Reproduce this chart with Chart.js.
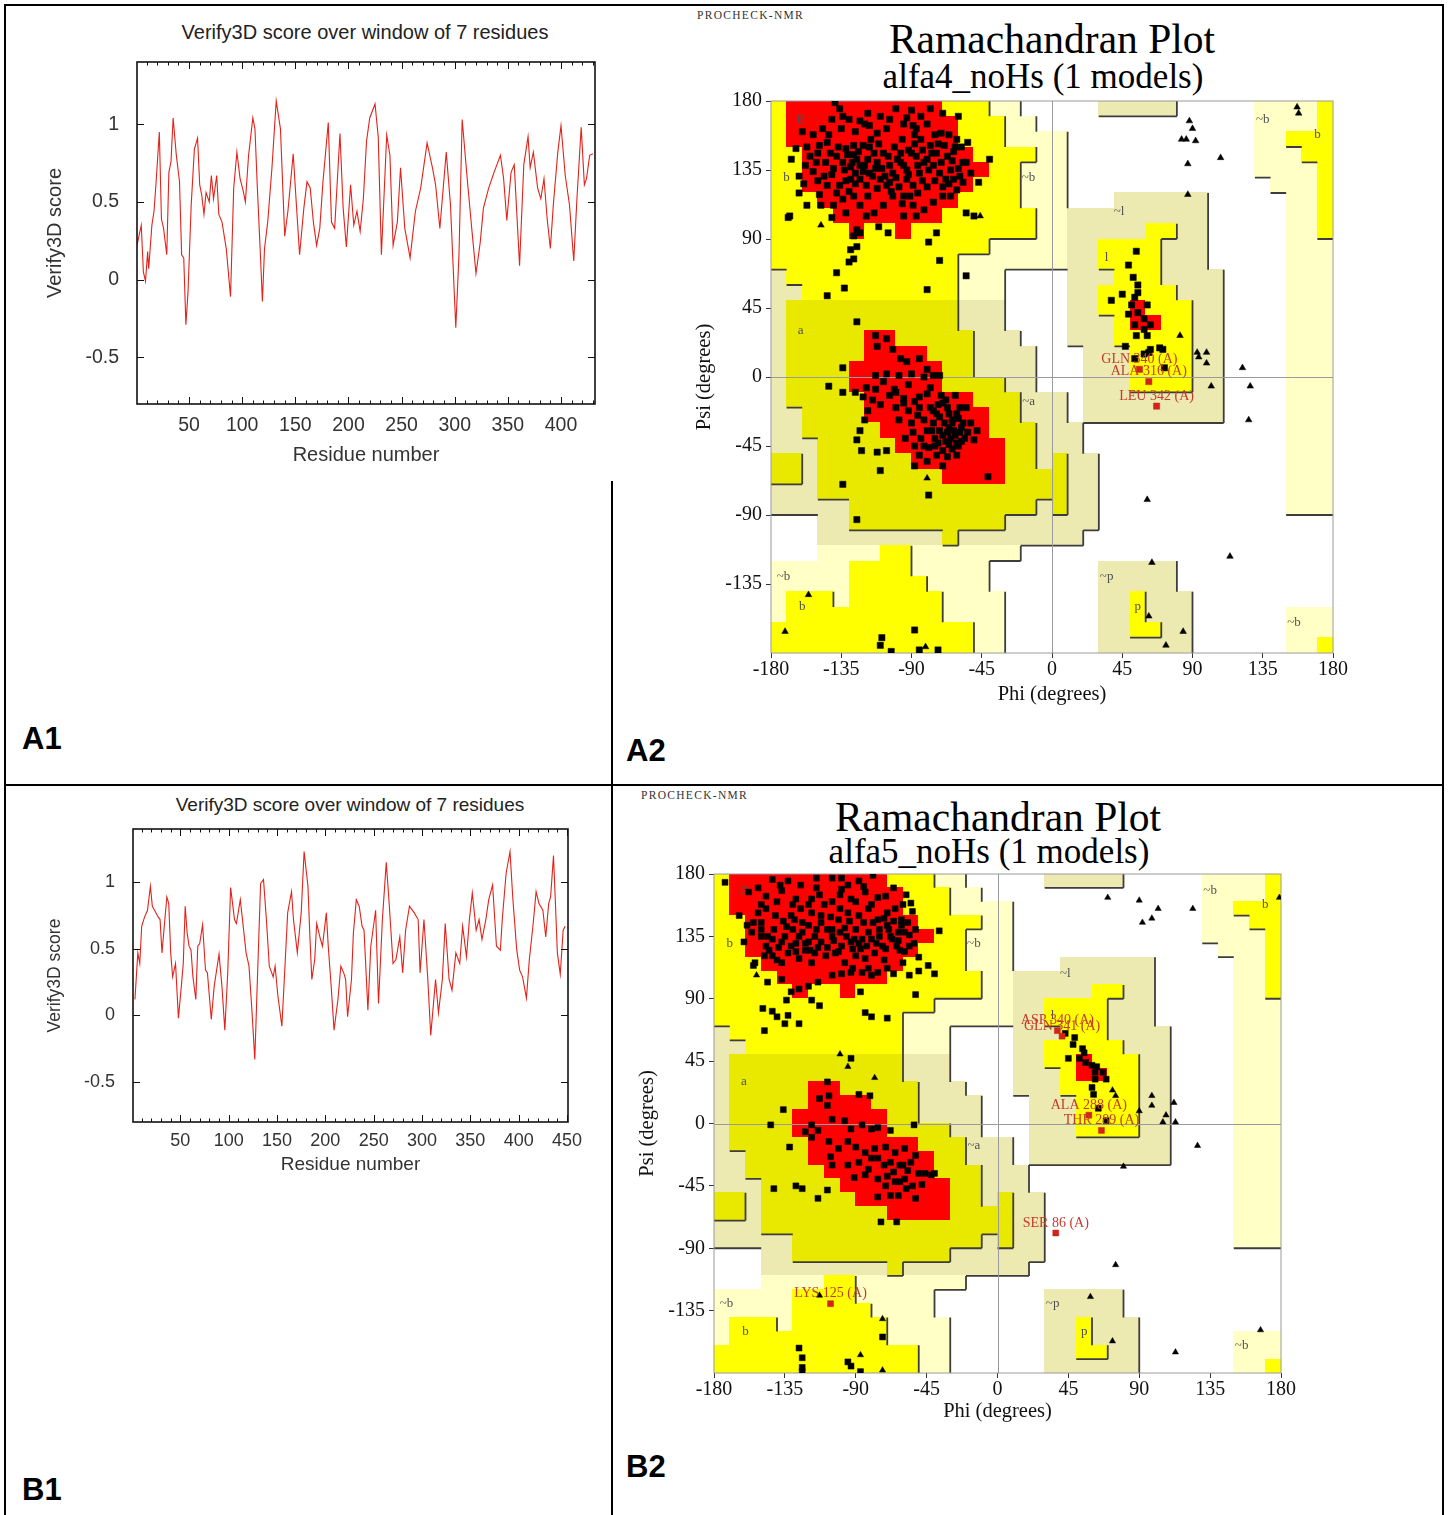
<!DOCTYPE html>
<html lang="en">
<head>
<meta charset="UTF-8">
<title>Verify3D and Ramachandran plots</title>
<script src="https://cdn.jsdelivr.net/npm/chart.js"></script>
<style>
  body { margin: 0; background: #fff; }
  #page { position: relative; width: 1450px; height: 1515px; overflow: hidden; background: #fff; }
  .rule { position: absolute; background: #000; }
  .txt { position: absolute; white-space: nowrap; line-height: 1; }
  .sans { font-family: "Liberation Sans", Arial, sans-serif; color: #222; }
  .serif { font-family: "Liberation Serif", "Times New Roman", serif; color: #000; }
  .panel { position: absolute; line-height: 1; font-family: "Liberation Sans", Arial, sans-serif; font-weight: bold; font-size: 31px; color: #000; }
  canvas { position: absolute; }
</style>
</head>
<body>
<div id="page">
  <div class="rule" style="left:4px;top:4px;width:1440px;height:2px"></div>
  <div class="rule" style="left:4px;top:4px;width:2px;height:1511px"></div>
  <div class="rule" style="left:1442px;top:4px;width:2px;height:1511px"></div>
  <div class="rule" style="left:4px;top:784px;width:1440px;height:2px"></div>
  <div class="rule" style="left:611px;top:481px;width:2px;height:1034px"></div>

  <div class="txt sans" style="left:365px;top:32px;font-size:20px;transform:translate(-50%,-50%)">Verify3D score over window of 7 residues</div>
  <canvas id="verifyA" width="575" height="452" style="left:40px;top:15px"></canvas>
  <div class="panel" style="left:22px;top:723px">A1</div>

  <div class="txt serif" style="left:697px;top:10px;font-size:11.5px;letter-spacing:1.3px;color:#333">PROCHECK-NMR</div>
  <div class="txt serif" style="left:1052px;top:19px;font-size:41.5px;transform:translateX(-50%)">Ramachandran Plot</div>
  <div class="txt serif" style="left:1043px;top:59px;font-size:35px;transform:translateX(-50%)">alfa4_noHs (1 models)</div>
  <canvas id="ramaA" width="670" height="622" style="left:690px;top:85px"></canvas>
  <div class="panel" style="left:626px;top:735px">A2</div>

  <div class="txt sans" style="left:350px;top:804px;font-size:19px;transform:translate(-50%,-50%)">Verify3D score over window of 7 residues</div>
  <canvas id="verifyB" width="560" height="386" style="left:40px;top:790px"></canvas>
  <div class="panel" style="left:22px;top:1474px">B1</div>

  <div class="txt serif" style="left:641px;top:790px;font-size:11.5px;letter-spacing:1.3px;color:#333">PROCHECK-NMR</div>
  <div class="txt serif" style="left:998px;top:797px;font-size:41.5px;transform:translateX(-50%)">Ramachandran Plot</div>
  <div class="txt serif" style="left:989px;top:834px;font-size:35px;transform:translateX(-50%)">alfa5_noHs (1 models)</div>
  <canvas id="ramaB" width="680" height="566" style="left:635px;top:858px"></canvas>
  <div class="panel" style="left:626px;top:1451px">B2</div>
</div>

<script>
// ---------- Verify3D profiles ----------
const residueTicks = [50, 100, 150, 200, 250, 300, 350, 400, 450];
const scoreTicks = [-0.5, 0, 0.5, 1];

const a1Residue = [
  1,5,7,9,11,12,15,17,19,22,
  24,26,29,31,33,35,38,41,43,45,
  47,49,52,55,58,60,62,64,66,69,
  71,73,76,78,81,85,89,92,95,98,
  101,103,106,110,112,114,117,119,121,124,
  128,132,136,140,143,148,151,154,158,161,
  164,167,170,173,176,181,184,187,192,195,
  198,202,205,208,211,214,217,220,225,228,
  231,236,239,242,246,249,253,258,263,268,
  274,279,282,286,292,296,301,304,307,312,
  316,320,324,327,332,337,343,346,349,353,
  356,361,365,369,371,374,378,381,384,387,
  390,393,397,400,404,408,412,415,419,422,
  424,427,430
];
const a1Score = [
  0.22,0.35,0.05,-0.01,0.18,0.07,0.35,0.44,0.63,0.95,
  0.39,0.33,0.16,0.69,0.76,1.04,0.80,0.63,0.16,0.14,
  -0.29,-0.08,0.48,0.84,0.91,0.61,0.54,0.42,0.56,0.50,
  0.67,0.52,0.67,0.42,0.37,0.20,-0.11,0.59,0.82,0.65,
  0.57,0.50,0.80,1.04,0.97,0.63,0.18,-0.14,0.20,0.37,
  0.72,1.15,0.97,0.28,0.44,0.81,0.48,0.16,0.46,0.63,
  0.59,0.37,0.22,0.33,0.63,1.01,0.37,0.33,0.94,0.46,
  0.21,0.61,0.35,0.44,0.31,0.52,0.89,1.04,1.13,0.92,
  0.16,0.93,0.80,0.22,0.37,0.72,0.33,0.14,0.44,0.59,
  0.88,0.72,0.61,0.33,0.82,0.48,-0.31,0.16,1.03,0.63,
  0.33,0.04,0.24,0.46,0.59,0.69,0.80,0.65,0.38,0.69,
  0.74,0.09,0.74,0.92,0.72,0.82,0.59,0.52,0.65,0.39,
  0.20,0.50,0.82,0.99,0.67,0.48,0.12,0.52,0.98,0.61,
  0.65,0.80,0.81
];

const b1Residue = [
  3,6,8,10,13,16,19,21,24,27,
  29,31,33,36,38,40,42,45,48,51,
  53,55,57,59,61,63,66,68,70,73,
  76,78,82,85,90,93,96,99,102,106,
  108,112,115,118,121,124,127,130,133,136,
  139,142,146,148,151,155,158,161,165,167,
  171,175,178,182,184,186,189,191,195,197,
  201,203,206,209,213,216,219,221,223,227,
  229,232,235,238,240,244,247,252,255,259,
  263,266,270,273,277,280,283,287,292,296,
  298,302,306,309,314,317,321,324,328,331,
  335,339,342,346,349,352,356,359,362,366,
  369,373,377,381,383,387,391,394,398,401,
  404,408,411,415,418,421,425,428,431,433,
  436,438,440,443,446,448
];
const b1Score = [
  0.12,0.47,0.39,0.67,0.74,0.79,0.97,0.82,0.78,0.74,
  0.72,0.47,0.64,0.89,0.84,0.47,0.29,0.39,-0.02,0.22,
  0.39,0.82,0.62,0.52,0.49,0.29,0.12,0.52,0.54,0.68,
  0.34,0.32,-0.03,0.22,0.46,0.22,-0.11,0.32,0.96,0.72,
  0.69,0.87,0.67,0.47,0.37,0.04,-0.33,0.34,0.99,1.02,
  0.72,0.37,0.29,0.37,0.14,-0.08,0.34,0.77,0.93,0.72,
  0.47,0.77,1.23,0.97,0.59,0.27,0.42,0.69,0.57,0.52,
  0.77,0.52,0.22,-0.11,0.12,0.37,0.32,0.27,-0.01,0.27,
  0.62,0.87,0.82,0.67,0.64,0.04,0.52,0.79,0.09,0.72,
  1.15,0.84,0.39,0.42,0.59,0.32,0.64,0.82,0.77,0.72,
  0.32,0.72,0.27,-0.15,0.27,0.02,0.27,0.69,0.27,0.19,
  0.47,0.39,0.67,0.44,0.72,0.92,0.64,0.72,0.57,0.72,
  0.87,0.98,0.52,0.49,0.72,1.07,1.23,0.87,0.49,0.34,
  0.29,0.13,0.42,0.69,0.93,0.84,0.79,0.59,0.84,0.89,
  1.20,0.84,0.47,0.31,0.64,0.67
];

// ---------- Ramachandran plots ----------
const angleTicks = [-180, -135, -90, -45, 0, 45, 90, 135, 180];

// 10 degree cells, rows from psi 180 down to -180, columns phi -180 to 180
// R core, Y allowed, y allowed (alpha), K / P generously allowed, . disallowed
const regionRows = [
  "YRRRRRRRRRRYYYPP.." + "...KKKKK.....PPPPY",
  "YRRRRRRRRRRRYYYPP." + ".............PPPPY",
  "YRRRRRRRRRRRYYYPPP" + "P............PPYYY",
  "YYRRRRRRRRRRRYYYYP" + "P............PPPYY",
  "YYRRRRRRRRRRRRYYPP" + "P............PPPPY",
  "YYRRRRRRRRRRRYYYPP" + "P.............PPPY",
  "YYYRRRRRRRRRYYYYPP" + "P...KKKKKK.....PPY",
  "YYYYRRRRRRRYYYYYYP" + "PKKKKKKKKK.....PPY",
  "YYYYYRYYRYYYYYYYYP" + "PKKKKKYYKK.....PPY",
  "YYYYYYYYYYYYYYPPPP" + "PKKYYYYKKK.....PPP",
  "YYYYYYYYYYYYPPPPPP" + "PKKYYYYKKK.....PPP",
  "KYYYYYYYYYYYPPP..." + ".KKKYYYKKKK....PPP",
  "KKYYYYYYYYYYPPP..." + ".KKYYYYYKKK....PPP",
  "KyyyyyyyyyyyKKK..." + ".KKYYRYYYKK....PPP",
  "KyyyyyyyyyyyKKK..." + ".KKKYRRYYKK....PPP",
  "KyyyyyRRyyyyyKKK.." + ".KKKYYYYYKK....PPP",
  "KyyyyyRRRRyyyKKKK." + "..KKKYYYYKK....PPP",
  "KyyyyRRRRRRyyKKKK." + "..KKKYYYYKK....PPP",
  "KyyyyRRRRRRyyyyKK." + "..KKKYYYYKK....PPP",
  "KyyyyyRRRRRRRyyyKK" + "K.KKKKKKKKK....PPP",
  "KKyyyyRRRRRRRRyyKK" + "K.KKKKKKKKK....PPP",
  "KKyyyyyRRRRRRRyyyK" + "KK.............PPP",
  "KKKyyyyyRRRRRRRyyK" + "KK.............PPP",
  "yyKyyyyyyRRRRRRyyK" + "yKK............PPP",
  "yyKyyyyyyyyRRRRyyy" + "yKK............PPP",
  "KKKyyyyyyyyyyyyyyy" + "yKK............PPP",
  "KKKKKyyyyyyyyyyyyK" + "yKK............PPP",
  "...KKyyyyyyyyyyKKK" + "KKK...............",
  "...KKKKKKKKyKKKKKK" + "KK................",
  "...PPPPYYPPPPPPP.." + "..................",
  "PPPPPYYYYPPPPP...." + "...KKKKK..........",
  "PPPPPYYYYYPPPP...." + "...KKKKK..........",
  "PYYYPYYYYYYPPPP..." + "...KKYKKK.........",
  "PYYYYYYYYYYPPPP..." + "...KKYKKK......PPP",
  "YYYYYYYYYYYYYPP..." + "...KKYYKK......PPP",
  "YYYYYYYYYYYYYPP..." + "...KKKKKK......PPY"
];
const regionColours = { R: '#ff0000', Y: '#ffff00', y: '#e9e900', K: '#ece9b1', P: '#ffffc6' };
const regionLevel = { '.': 0, P: 1, K: 1, Y: 2, y: 2, R: 2 };
const regionLetters = [
  ['B', -161, 168], ['b', -170, 130], ['~b', -15, 130], ['a', -161, 30],
  ['~a', -15, -16], ['~b', -172, -130], ['b', -160, -150], ['~l', 43, 108],
  ['l', 35, 78], ['~b', 135, 168], ['b', 170, 158], ['~p', 35, -130],
  ['p', 55, -150], ['~b', 155, -160]
];

const a2Residues = [
  [-139,179],[-136,175],[-134,170],[-141,168],[-123,167],[-117,164],[-112,159],[-106,162],[-93,169],[-89,164],
  [-87,162],[-70,172],[-60,170],[-71,159],[-61,155],[-54,153],[-40,142],[-47,127],[-55,107],[-50,105],
  [-164,149],[-167,142],[-162,131],[-158,138],[-155,144],[-151,140],[-149,151],[-144,153],[-142,146],[-138,144],
  [-134,140],[-132,149],[-127,151],[-125,142],[-123,138],[-126,133],[-129,129],[-123,129],[-119,125],[-117,133],
  [-121,151],[-114,146],[-112,140],[-110,129],[-106,125],[-102,133],[-99,142],[-97,146],[-95,138],[-93,129],
  [-89,125],[-85,133],[-82,140],[-87,144],[-80,142],[-76,138],[-72,133],[-67,144],[-65,135],[-63,129],
  [-59,131],[-57,140],[-61,122],[-70,118],[-76,114],[-82,109],[-89,112],[-95,118],[-102,118],[-108,112],
  [-114,107],[-119,105],[-123,112],[-127,118],[-134,116],[-138,120],[-144,125],[-149,119],[-157,112],[-168,105],
  [-169,104],[-141,104],[-132,107],[-125,96],[-123,94],[-127,92],[-129,83],[-130,75],[-127,77],[-125,85],
  [-138,68],[-133,58],[-144,53],[-111,98],[-105,94],[-95,105],[-87,105],[-79,88],[-74,94],[-72,76],
  [-55,66],[-80,57],[-125,36],[-113,27],[-134,6],
  [-128,140],[-131,145],[-120,138],[-124,147],[-118,142],[-115,131],[-109,136],[-105,144],[-101,150],[-96,155],
  [-92,148],[-88,152],[-83,148],[-78,151],[-74,146],[-69,151],[-66,158],[-63,147],[-58,150],[-55,140],
  [-52,133],[-140,136],[-146,131],[-150,128],[-153,134],[-136,125],[-130,121],[-118,118],[-112,123],[-104,127],
  [-98,124],[-91,118],[-86,120],[-80,124],[-75,128],[-70,124],[-65,118],[-153,158],[-147,162],[-126,160],
  [-120,165],[-110,170],[-100,175],[-95,165],[-80,165],[-75,158],[-160,160],[-162,120],
  [-145,140],[-141,132],[-137,150],[-133,135],[-129,137],[-126,126],[-121,134],[-117,150],[-113,136],[-108,146],
  [-104,138],[-100,130],[-97,140],[-93,135],[-90,146],[-86,138],[-83,128],[-79,135],[-77,146],[-73,152],
  [-71,140],[-68,129],[-64,141],[-60,136],[-57,127],[-150,146],[-157,150],[-159,126],[-148,112],[-140,112],
  [-132,128],[-127,145],[-116,155],[-111,152],[-107,131],[-103,121],[-96,113],[-92,132],[-88,158],[-84,155],
  [-66,126],[-62,150],[-143,158],[-135,162],[-130,168],[-118,172],[-104,168],[-90,174],[-84,170],[-78,175],
  [-112,20],[-106,25],[-102,18],[-97,12],[-93,10],[-85,12],[-80,5],[-72,1],
  [-113,1],[-106,2],[-98,1],[-90,2],[-82,0],[-76,1],[-143,-6],[-134,-10],[-126,-10],[-121,-13],
  [-119,-7],[-113,-8],[-101,-8],[-95,-14],[-95,-17],[-88,-16],[-85,-13],[-80,-11],[-78,-7],[-71,-12],
  [-70,-17],[-76,-22],[-74,-24],[-72,-26],[-67,-20],[-66,-24],[-64,-28],[-61,-24],[-59,-20],[-57,-30],
  [-59,-36],[-63,-35],[-67,-36],[-69,-30],[-76,-30],[-82,-28],[-89,-36],[-94,-40],[-79,-46],[-73,-43],
  [-61,-43],[-50,-41],[-61,-51],[-74,-51],[-85,-51],[-88,-58],[-41,-65],[-123,-35],[-125,-41],[-122,-48],
  [-112,-49],[-106,-48],[-110,-61],[-134,-70],[-79,-77],[-125,-93],
  [-65,-40],[-62,-38],[-68,-42],[-60,-45],[-70,-38],[-58,-33],[-64,-30],[-66,-44],[-72,-35],[-56,-40],
  [-75,-40],[-80,-35],[-84,-40],[-90,-30],[-100,-20],[-104,-12],[-92,-5],[-110,-18],[-86,-25],[-98,-28],
  [-118,-22],[-78,-20],[-68,-15],[-62,-12],[-55,-20],[-52,-30],[-48,-35],
  [-75,-45],[-70,-48],[-64,-47],[-58,-42],[-54,-36],[-77,-35],[-82,-45],[-66,-33],[-60,-27],[-73,-18],
  [-85,-20],[-92,-22],[-100,-10],[-108,-3],[-115,-15],[-120,-28],[-88,-45],[-80,-55],[-70,-58],[-67,-52],
  [-88,-165],[-109,-170],[-110,-175],[-103,-179],[-85,-178],[-73,-178],
  [54,82],[49,73],[52,65],[55,60],[55,55],[45,54],[38,50],[53,52],[51,47],[61,47],
  [49,41],[55,42],[59,38],[63,34],[53,34],[59,31],[61,27],[54,27],[47,20],[63,18],
  [69,19],[71,18],[59,15],[62,16],[53,12],[72,6]
];
const a2Glycines = [
  [-148,99],[-46,105],[-80,-66],[-81,-176],[-156,-142],[-171,-166],[88,167],[90,162],[83,155],[86,155],
  [92,154],[108,143],[87,139],[87,119],[82,27],[93,16],[99,16],[94,13],[99,9],[122,6],
  [157,176],[158,172],[102,-6],[127,-6],[126,-28],[61,-80],[114,-117],[64,-121],[62,-156],[84,-166],
  [73,-175]
];
const a2Outliers = [[56,5],[62,-3],[67,-19]];
const a2OutlierNames = ['GLN 340 (A)', 'ALA 316 (A)', 'LEU 342 (A)'];

const b2Residues = [
  [-173,174],[-143,176],[-133,175],[-105,177],[-99,177],[-79,179],[-158,167],[-147,164],[-137,168],[-128,162],
  [-118,162],[-113,165],[-99,169],[-93,162],[-85,171],[-84,167],[-71,164],[-58,165],[-55,159],[-54,153],
  [-164,150],[-159,143],[-152,152],[-147,155],[-141,150],[-136,146],[-131,150],[-124,145],[-118,152],[-112,150],
  [-106,149],[-101,147],[-95,152],[-88,150],[-82,155],[-76,147],[-70,152],[-65,155],[-61,147],[-156,138],
  [-150,135],[-143,133],[-137,131],[-131,128],[-124,138],[-120,131],[-116,123],[-112,131],[-105,135],[-99,128],
  [-93,131],[-86,133],[-80,133],[-73,128],[-67,133],[-63,138],[-59,138],[-52,140],[-37,139],[-161,131],
  [-154,116],[-148,121],[-143,121],[-137,116],[-133,123],[-126,119],[-122,125],[-118,116],[-109,121],[-103,123],
  [-97,116],[-90,121],[-84,119],[-78,123],[-71,126],[-64,128],[-56,128],[-50,120],[-155,114],[-146,102],
  [-137,104],[-131,95],[-126,97],[-120,99],[-114,102],[-118,89],[-113,85],[-105,107],[-99,108],[-93,109],
  [-86,109],[-80,107],[-76,109],[-66,108],[-56,107],[-50,110],[-44,114],[-40,108],[-52,93],[-87,95],
  [-84,80],[-80,77],[-70,76],[-149,83],[-143,81],[-140,77],[-134,89],[-133,78],[-135,72],[-126,72],
  [-148,67],[-93,47],[-108,30],[-136,10],[-113,18],[-107,20],[-108,13],[-88,21],[-81,20],
  [-130,140],[-125,155],[-120,143],[-110,158],[-105,140],[-100,155],[-90,140],[-85,145],[-80,158],[-75,140],
  [-70,143],[-68,135],[-62,125],[-140,160],[-150,145],[-145,125],[-135,135],[-128,130],[-115,140],[-108,127],
  [-96,135],[-92,126],[-88,130],[-82,138],[-77,130],[-72,118],[-100,165],[-115,170],[-125,172],[-95,172],
  [-88,175],[-60,158],[-57,145],[-150,158],
  [-155,145],[-150,140],[-146,135],[-142,140],[-139,127],[-134,142],[-129,147],[-126,135],[-122,130],[-119,125],
  [-116,135],[-112,145],[-108,140],[-104,132],[-101,124],[-97,141],[-94,146],[-91,133],[-87,126],[-83,128],
  [-79,145],[-75,135],[-72,148],[-69,140],[-66,146],[-63,132],[-61,143],[-59,124],[-56,136],[-53,130],
  [-147,128],[-140,118],[-128,124],[-114,127],[-100,138],[-92,112],[-82,112],[-70,112],[-60,116],[-130,158],
  [-120,158],[-105,160],[-90,160],[-76,163],[-66,170],[-115,177],[-138,172],[-152,170],
  [-144,-1],[-118,-1],[-114,-5],[-105,3],[-97,2],[-93,-4],[-86,-1],[-80,-4],[-76,-3],[-68,-5],
  [-53,-1],[-132,-17],[-122,-6],[-118,-10],[-107,-13],[-101,-18],[-95,-13],[-90,-17],[-84,-21],[-78,-18],
  [-71,-17],[-65,-21],[-59,-18],[-52,-23],[-76,-25],[-68,-28],[-62,-30],[-57,-34],[-50,-36],[-42,-37],
  [-40,-36],[-106,-24],[-105,-30],[-95,-30],[-91,-39],[-82,-33],[-76,-40],[-71,-45],[-65,-42],[-59,-40],
  [-54,-45],[-58,-47],[-76,-53],[-68,-52],[-63,-52],[-52,-54],[-142,-47],[-128,-45],[-124,-47],[-108,-48],
  [-74,-71],[-64,-71],[-46,-36],[-114,-54],[-84,-37],
  [-60,-30],[-66,-35],[-72,-30],[-80,-25],[-88,-28],[-55,-28],[-62,-42],[-70,-38],[-48,-44],
  [-126,-162],[-124,-169],[-124,-176],[-124,-179],[-95,-172],[-93,-175],[-87,-179],[-73,-154],
  [43,65],[49,62],[48,57],[54,54],[55,51],[45,47],[52,47],[56,44],[60,42],[63,41],
  [62,37],[67,37],[69,32],[62,32],[60,26],[61,21],[64,11],[69,2]
];
const b2Glycines = [
  [-153,107],[-100,50],[-95,41],[-78,33],[-113,-124],[-73,-141],[-87,-167],[-73,-178],[70,163],[90,161],
  [102,155],[98,148],[92,145],[124,155],[179,163],[73,24],[75,20],[98,20],[98,13],[112,15],
  [107,6],[105,1],[113,1],[90,9],[127,-16],[80,-31],[75,-102],[59,-125],[73,-157],[113,-165],
  [167,-149]
];
const b2Outliers = [[38,67],[41,63],[58,6],[66,-5],[37,-79],[-106,-130]];
const b2OutlierNames = ['ASP 340 (A)', 'GLN 341 (A)', 'ALA 288 (A)', 'THR 289 (A)', 'SER 86 (A)', 'LYS 125 (A)'];

// ---------- plugins ----------
const verifyFrame = {
  id: 'verifyFrame',
  afterDatasetsDraw(chart) {
    const { ctx, chartArea: a, scales: { x, y } } = chart;
    ctx.save();
    ctx.strokeStyle = '#111';
    ctx.lineWidth = 1.6;
    ctx.strokeRect(a.left, a.top, a.width, a.height);
    ctx.lineWidth = 1;
    ctx.beginPath();
    for (let v = 10; v < x.max; v += 10) {
      const px = Math.round(x.getPixelForValue(v)) + 0.5;
      const len = v % 50 === 0 ? 7 : 3.5;
      ctx.moveTo(px, a.bottom); ctx.lineTo(px, a.bottom - len);
      ctx.moveTo(px, a.top); ctx.lineTo(px, a.top + len);
    }
    y.ticks.forEach(t => {
      const py = Math.round(y.getPixelForValue(t.value)) + 0.5;
      ctx.moveTo(a.left, py); ctx.lineTo(a.left + 7, py);
      ctx.moveTo(a.right, py); ctx.lineTo(a.right - 7, py);
    });
    ctx.stroke();
    ctx.restore();
  }
};

const ramaRegions = {
  id: 'ramaRegions',
  beforeDatasetsDraw(chart) {
    const { ctx, chartArea: a, scales: { x, y } } = chart;
    const px = c => x.getPixelForValue(-180 + c * 10);
    const py = r => y.getPixelForValue(180 - r * 10);
    const code = (r, c) => (regionRows[r] || '')[c] || '.';
    ctx.save();
    for (let r = 0; r < 36; r++) {
      for (let c = 0; c < 36; c++) {
        const k = code(r, c);
        if (k === '.') continue;
        const x0 = Math.floor(px(c)), x1 = Math.ceil(px(c + 1));
        const y0 = Math.floor(py(r)), y1 = Math.ceil(py(r + 1));
        ctx.fillStyle = regionColours[k];
        ctx.fillRect(x0, y0, x1 - x0, y1 - y0);
      }
    }
    // dark shadow edge on the right and lower side of each band
    ctx.strokeStyle = '#3d3d3d';
    ctx.lineWidth = 1.8;
    ctx.beginPath();
    for (let r = 0; r < 36; r++) {
      for (let c = 0; c < 36; c++) {
        const lv = regionLevel[code(r, c)];
        if (c < 35 && lv > regionLevel[code(r, c + 1)]) {
          ctx.moveTo(px(c + 1), py(r)); ctx.lineTo(px(c + 1), py(r + 1));
        }
        if (r < 35 && lv > regionLevel[code(r + 1, c)]) {
          ctx.moveTo(px(c), py(r + 1)); ctx.lineTo(px(c + 1), py(r + 1));
        }
      }
    }
    ctx.stroke();

    ctx.strokeStyle = '#9a9a9a';
    ctx.lineWidth = 1;
    ctx.beginPath();
    const zx = Math.round(x.getPixelForValue(0)) + 0.5, zy = Math.round(y.getPixelForValue(0)) + 0.5;
    ctx.moveTo(zx, a.top); ctx.lineTo(zx, a.bottom);
    ctx.moveTo(a.left, zy); ctx.lineTo(a.right, zy);
    ctx.stroke();
    ctx.strokeRect(a.left, a.top, a.width, a.height);

    ctx.font = '13px "Liberation Serif", serif';
    ctx.fillStyle = '#505050';
    ctx.textAlign = 'center';
    ctx.textBaseline = 'middle';
    regionLetters.forEach(([t, phi, psi]) => {
      ctx.fillText(t, x.getPixelForValue(phi), y.getPixelForValue(psi));
    });
    ctx.restore();
  },
  afterDatasetsDraw(chart) {
    const ds = chart.data.datasets[0];
    const { ctx } = chart;
    ctx.save();
    ctx.font = '14px "Liberation Serif", serif';
    ctx.fillStyle = '#c43a2c';
    ctx.textAlign = 'center';
    ctx.textBaseline = 'bottom';
    chart.getDatasetMeta(0).data.forEach((pt, i) => {
      ctx.fillText(ds.names[i], pt.x, pt.y - 3);
    });
    ctx.restore();
  }
};

// ---------- chart builders ----------
function verifyChart(id, residues, scores, opt) {
  new Chart(document.getElementById(id), {
    type: 'line',
    data: {
      datasets: [{
        data: residues.map((r, i) => ({ x: r, y: scores[i] })),
        borderColor: '#e2231a',
        borderWidth: 1.1,
        pointRadius: 0,
        tension: 0
      }]
    },
    options: {
      responsive: false,
      animation: false,
      layout: { autoPadding: false, padding: { top: opt.padTop, right: opt.padRight, left: 0, bottom: 0 } },
      plugins: { legend: { display: false }, tooltip: { enabled: false } },
      scales: {
        x: {
          type: 'linear', min: opt.xMin, max: opt.xMax,
          afterBuildTicks: s => { s.ticks = residueTicks.filter(v => v <= opt.xMax + 2).map(v => ({ value: v })); },
          afterFit: s => { s.height = opt.xAxisH; },
          grid: { display: false },
          border: { display: false },
          ticks: { padding: opt.xTickPad, color: '#333', autoSkip: false, maxRotation: 0, font: { size: opt.tickSize }, callback: v => String(v) },
          title: { display: true, text: 'Residue number', color: '#333', padding: 0, font: { size: opt.labelSize } }
        },
        y: {
          min: -0.8, max: 1.4,
          afterBuildTicks: s => { s.ticks = scoreTicks.map(v => ({ value: v })); },
          afterFit: s => { s.width = opt.yAxisW; },
          grid: { display: false },
          border: { display: false },
          ticks: { padding: 10, color: '#333', autoSkip: false, font: { size: opt.tickSize }, callback: v => String(v) },
          title: { display: true, text: 'Verify3D score', color: '#333', padding: { top: opt.yTitlePad, bottom: 0 }, font: { size: opt.yLabelSize } }
        }
      }
    },
    plugins: [verifyFrame]
  });
}

function ramaChart(id, residues, glycines, outliers, names, opt) {
  const pts = arr => arr.map(p => ({ x: p[0], y: p[1] }));
  const serif = '"Liberation Serif", "Times New Roman", serif';
  new Chart(document.getElementById(id), {
    type: 'scatter',
    data: {
      datasets: [
        { data: pts(outliers), names: names, pointStyle: 'rect', pointRadius: opt.dot, backgroundColor: '#d0231c', borderColor: '#d0231c', borderWidth: 0.5 },
        { data: pts(glycines), pointStyle: 'triangle', pointRadius: opt.dot - 0.6, backgroundColor: '#000', borderColor: '#000', borderWidth: 0.5 },
        { data: pts(residues), pointStyle: 'rect', pointRadius: opt.dot, backgroundColor: '#000', borderColor: '#000', borderWidth: 0.5 }
      ]
    },
    options: {
      responsive: false,
      animation: false,
      layout: { autoPadding: false, padding: { top: opt.padTop, right: opt.padRight, left: 0, bottom: 0 } },
      plugins: { legend: { display: false }, tooltip: { enabled: false } },
      scales: {
        x: {
          type: 'linear', min: -180, max: 180,
          afterBuildTicks: s => { s.ticks = angleTicks.map(v => ({ value: v })); },
          afterFit: s => { s.height = opt.xAxisH; },
          grid: { drawOnChartArea: false, drawTicks: true, tickLength: 5, color: '#333' },
          border: { display: false },
          ticks: { padding: 0, color: '#111', autoSkip: false, maxRotation: 0, font: { family: serif, size: 20 }, callback: v => String(v) },
          title: { display: true, text: 'Phi (degrees)', color: '#111', padding: 0, font: { family: serif, size: 20.5 } }
        },
        y: {
          type: 'linear', min: -180, max: 180,
          afterBuildTicks: s => { s.ticks = angleTicks.filter(v => v > -180).map(v => ({ value: v })); },
          afterFit: s => { s.width = opt.yAxisW; },
          grid: { drawOnChartArea: false, drawTicks: true, tickLength: 5, color: '#333' },
          border: { display: false },
          ticks: { padding: 4, color: '#111', autoSkip: false, font: { family: serif, size: 20 }, callback: v => String(v) },
          title: { display: true, text: 'Psi (degrees)', color: '#111', padding: { top: opt.yTitlePad, bottom: 0 }, font: { family: serif, size: 20.5 } }
        }
      }
    },
    plugins: [ramaRegions]
  });
}

Chart.defaults.font.family = '"Liberation Sans", Arial, sans-serif';

verifyChart('verifyA', a1Residue, a1Score, {
  xMin: 1, xMax: 432, padTop: 47, padRight: 20, yAxisW: 97, xAxisH: 63, xTickPad: 2,
  tickSize: 19.5, labelSize: 20, yLabelSize: 20, yTitlePad: 3
});
verifyChart('verifyB', b1Residue, b1Score, {
  xMin: 1, xMax: 451, padTop: 39, padRight: 32, yAxisW: 93, xAxisH: 54, xTickPad: 0,
  tickSize: 18, labelSize: 19, yLabelSize: 17.5, yTitlePad: 4.5
});
ramaChart('ramaA', a2Residues, a2Glycines, a2Outliers, a2OutlierNames, {
  padTop: 15, padRight: 27, yAxisW: 81, xAxisH: 54, yTitlePad: 2.7, dot: 4.4
});
ramaChart('ramaB', b2Residues, b2Glycines, b2Outliers, b2OutlierNames, {
  padTop: 15, padRight: 34, yAxisW: 79, xAxisH: 51, yTitlePad: 0.7, dot: 4.2
});
</script>
</body>
</html>
